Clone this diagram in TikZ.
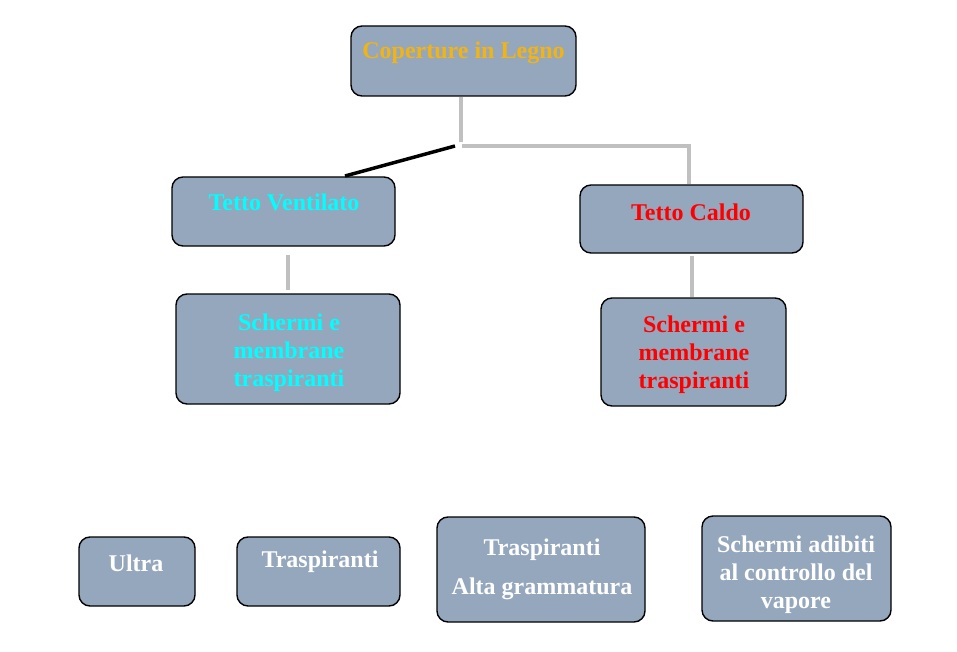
\documentclass[tikz,border=0pt]{standalone}
\usepackage{fontspec}
\setmainfont{Liberation Serif}
\definecolor{boxfill}{RGB}{149,167,189}
\definecolor{linegray}{RGB}{192,192,192}
\definecolor{gold}{RGB}{242,180,20}
\definecolor{cyanx}{RGB}{0,255,255}
\definecolor{redx}{RGB}{255,0,0}
\begin{document}
\begin{tikzpicture}[x=1pt,y=-1pt,
  box/.style={draw=black,line width=1.4pt,fill=boxfill,rounded corners=11pt,inner sep=0pt},
  txt/.style={font=\bfseries\fontsize{24}{28}\selectfont,align=center,inner sep=0pt},
  gline/.style={draw=linegray,line width=3.5pt}]
\useasboundingbox (0,0) rectangle (957,652);
% boxes
\node[box,minimum width=225pt,minimum height=70pt] (top) at (463.5,61) {};
\node[box,minimum width=223pt,minimum height=69pt] (tv) at (283.5,211.5) {};
\node[box,minimum width=223pt,minimum height=68pt] (tc) at (691.5,219) {};
\node[box,minimum width=224pt,minimum height=110pt] (sl) at (288,349) {};
\node[box,minimum width=185pt,minimum height=108pt] (sr) at (693.5,352) {};
\node[box,minimum width=116pt,minimum height=69pt] (ul) at (137,571.5) {};
\node[box,minimum width=163pt,minimum height=69pt] (tr) at (318.5,571.5) {};
\node[box,minimum width=208pt,minimum height=105pt] (ag) at (541,569.5) {};
\node[box,minimum width=189pt,minimum height=105pt] (sv) at (796.5,568.5) {};
% texts
\node[txt,text=gold] (ttop) at (463.5,53) {Coperture in Legno};
\node[txt,text=cyanx] (ttv) at (284,202) {Tetto Ventilato};
\node[txt,text=redx] (ttc) at (691,212) {Tetto Caldo};
\node[txt,text=cyanx] (tsl) at (289,353) {Schermi e\\membrane\\traspiranti};
\node[txt,text=redx] (tsr) at (694,355) {Schermi e\\membrane\\traspiranti};
\node[txt,text=white] (tul) at (136,563) {Ultra};
\node[txt,text=white] (ttr) at (320,562) {Traspiranti};
\node[txt,text=white,font=\bfseries\fontsize{24}{39}\selectfont] (tag) at (542,569) {Traspiranti\\Alta grammatura};
\node[txt,text=white] (tsv) at (796,575) {Schermi adibiti\\al controllo del\\vapore};
% connectors
\coordinate (j1) at (461,142);
\coordinate (j3) at (689,146);
\coordinate (bl) at (455,146);
\coordinate (tvtop) at (345,176);
\draw[gline] (top.south -| j1) -- (j1);
\draw[gline] (462,146) -- (j3) -- (j3 |- tc.north);
\draw[black,line width=3.5pt] (bl) -- (tvtop);
\draw[gline] (288,255) -- (288,290);
\draw[gline] (692,256) -- (692,297);
\end{tikzpicture}
\end{document}
